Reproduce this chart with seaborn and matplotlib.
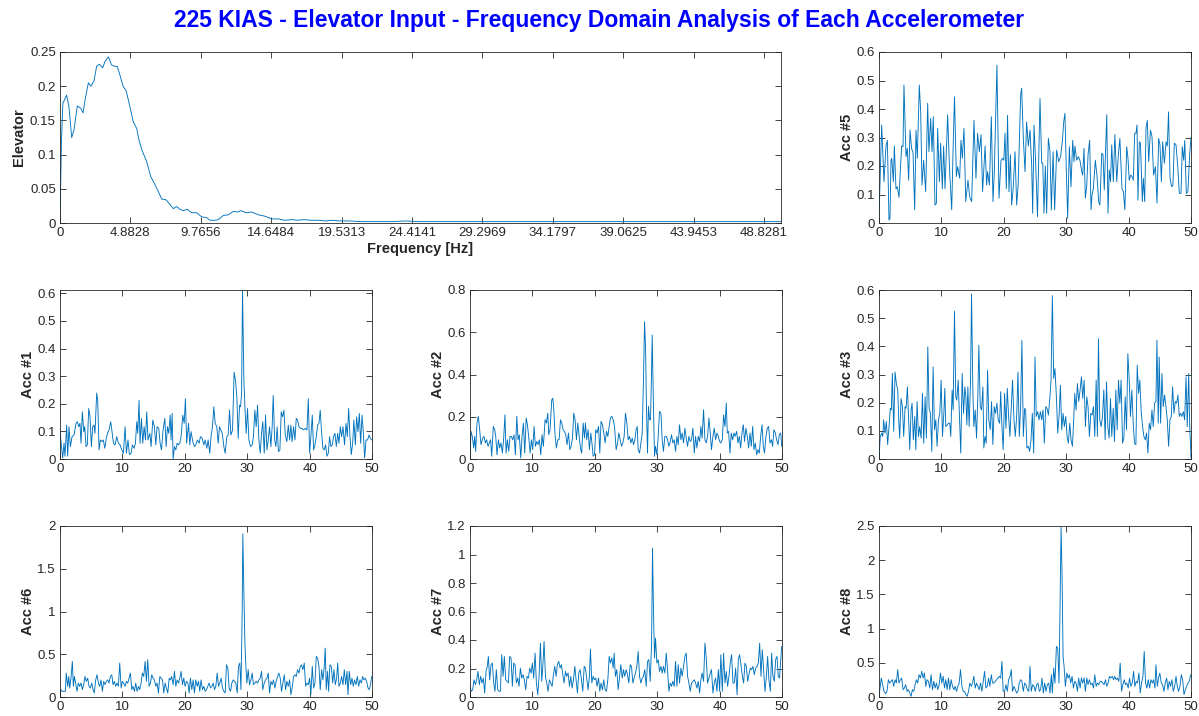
import numpy as np
import matplotlib
matplotlib.use("Agg")
import matplotlib.pyplot as plt
import seaborn as sns
from matplotlib.ticker import FuncFormatter

sns.set_theme(style="ticks")
plt.rcParams["font.family"] = ["Liberation Sans", "DejaVu Sans"]

LINE = "#0072BD"
INK = "#262626"

TITLE = "225 KIAS - Elevator Input - Frequency Domain Analysis of Each Accelerometer"

# Elevator input spectrum: (frequency [Hz], magnitude)
elevator = [(0, 0.0), (0.1, 0.12), (0.2, 0.175), (0.46, 0.187), (0.62, 0.17), (0.81, 0.125), (0.97, 0.136),
            (1.2, 0.171), (1.43, 0.168), (1.6, 0.161), (1.78, 0.185), (1.97, 0.205), (2.15, 0.2), (2.36, 0.208),
            (2.54, 0.229), (2.73, 0.232), (2.96, 0.227), (3.12, 0.236), (3.35, 0.243), (3.58, 0.231), (3.81, 0.229),
            (3.97, 0.229), (4.16, 0.216), (4.39, 0.199), (4.58, 0.194), (4.74, 0.18), (4.92, 0.163), (5.08, 0.148),
            (5.32, 0.138), (5.48, 0.121), (5.71, 0.105), (6.01, 0.09), (6.29, 0.068), (6.59, 0.056), (6.82, 0.046),
            (7.05, 0.035), (7.35, 0.034), (7.63, 0.027), (7.86, 0.021), (8.09, 0.024), (8.32, 0.02), (8.55, 0.018),
            (8.83, 0.02), (9.13, 0.015), (9.48, 0.015), (9.82, 0.009), (10.17, 0.008), (10.4, 0.004), (10.75, 0.004),
            (10.98, 0.005), (11.33, 0.011), (11.67, 0.012), (12.02, 0.017), (12.3, 0.016), (12.53, 0.018),
            (12.94, 0.015), (13.29, 0.016), (13.75, 0.012), (14.2, 0.01), (14.68, 0.006), (15.14, 0.006),
            (15.6, 0.004), (16.07, 0.005), (16.5, 0.004), (16.9, 0.005), (17.4, 0.004), (17.9, 0.004), (18.4, 0.003),
            (18.9, 0.004), (19.4, 0.003), (20.0, 0.003), (21, 0.002), (22, 0.002), (23, 0.002), (24, 0.003),
            (25, 0.002), (26, 0.002), (27, 0.002), (28, 0.002), (29, 0.002), (30, 0.002), (32, 0.002), (34, 0.002),
            (36, 0.002), (38, 0.002), (40, 0.002), (42, 0.002), (44, 0.002), (46, 0.002), (48, 0.002), (50, 0.002)]

acc1 = [(0, 0.099), (0.43, 0.004), (0.64, 0.057), (0.8, 0.01), (1.07, 0.123), (1.23, 0.01), (1.44, 0.117), (1.66, 0.045),
        (1.93, 0.081), (2.25, 0.087), (2.57, 0.129), (2.78, 0.135), (3.0, 0.117), (3.2, 0.129), (3.37, 0.057),
        (3.58, 0.171), (3.8, 0.099), (3.96, 0.117), (4.17, 0.045), (4.38, 0.051), (4.6, 0.183), (4.81, 0.153),
        (5.03, 0.045), (5.24, 0.117), (5.45, 0.123), (5.6, 0.093), (5.88, 0.239), (6.04, 0.212), (6.26, 0.033),
        (6.47, 0.069), (6.74, 0.063), (6.95, 0.069), (7.17, 0.039), (7.38, 0.069), (7.6, 0.093), (7.86, 0.105),
        (8.13, 0.135), (8.34, 0.099), (8.56, 0.057), (8.82, 0.051), (9.09, 0.081), (9.36, 0.057), (9.63, 0.051),
        (9.9, 0.033), (10.16, 0.021), (10.43, 0.117), (10.64, 0.021), (10.9, 0.069), (11.12, 0.016), (11.4, 0.021),
        (11.6, 0.051), (11.87, 0.039), (12.09, 0.057), (12.3, 0.135), (12.46, 0.093), (12.67, 0.212), (12.83, 0.057),
        (13.05, 0.147), (13.26, 0.057), (13.48, 0.117), (13.7, 0.069), (13.9, 0.171), (14.1, 0.069), (14.4, 0.093),
        (14.6, 0.045), (14.87, 0.141), (15.13, 0.117), (15.35, 0.051), (15.56, 0.117), (15.83, 0.111), (16.04, 0.057),
        (16.26, 0.033), (16.52, 0.105), (16.8, 0.147), (17.0, 0.045), (17.22, 0.117), (17.43, 0.093), (17.65, 0.159),
        (17.8, 0.069), (17.97, 0.165), (18.13, 0.0), (18.34, 0.045), (18.56, 0.033), (18.77, 0.057), (18.98, 0.051),
        (19.2, 0.057), (19.4, 0.081), (19.68, 0.159), (19.9, 0.129), (20.1, 0.218), (20.3, 0.057), (20.6, 0.129),
        (20.8, 0.051), (21.0, 0.099), (21.28, 0.063), (21.55, 0.045), (21.76, 0.051), (22.03, 0.069), (22.3, 0.057),
        (22.5, 0.081), (22.78, 0.075), (23.05, 0.051), (23.26, 0.069), (23.53, 0.039), (23.74, 0.069), (24.0, 0.021),
        (24.2, 0.081), (24.44, 0.117), (24.65, 0.189), (24.87, 0.129), (25.13, 0.117), (25.35, 0.057), (25.56, 0.117),
        (25.78, 0.105), (26.0, 0.093), (26.26, 0.045), (26.47, 0.021), (26.74, 0.081), (26.95, 0.087), (27.17, 0.177),
        (27.38, 0.087), (27.65, 0.105), (27.9, 0.314), (28.13, 0.284), (28.34, 0.224), (28.56, 0.075), (28.77, 0.195),
        (28.93, 0.189), (29.1, 0.236), (29.25, 0.612), (29.47, 0.284), (29.68, 0.165), (29.84, 0.093), (30.05, 0.183),
        (30.27, 0.069), (30.53, 0.045), (30.8, 0.051), (31.0, 0.081), (31.23, 0.177), (31.44, 0.117), (31.66, 0.195),
        (31.87, 0.069), (32.09, 0.021), (32.3, 0.093), (32.5, 0.135), (32.73, 0.021), (32.94, 0.159), (33.16, 0.033),
        (33.37, 0.069), (33.58, 0.117), (33.8, 0.045), (34.0, 0.117), (34.17, 0.23), (34.4, 0.069), (34.6, 0.045),
        (34.8, 0.117), (35.0, 0.027), (35.24, 0.033), (35.45, 0.171), (35.67, 0.153), (35.88, 0.177), (36.1, 0.087),
        (36.36, 0.063), (36.58, 0.123), (36.8, 0.069), (37.0, 0.123), (37.2, 0.063), (37.43, 0.117), (37.65, 0.069),
        (37.86, 0.147), (38.07, 0.141), (38.29, 0.117), (38.5, 0.111), (38.77, 0.111), (39.04, 0.105), (39.3, 0.111),
        (39.57, 0.105), (39.8, 0.218), (40.0, 0.021), (40.2, 0.081), (40.43, 0.159), (40.64, 0.033), (40.86, 0.051),
        (41.07, 0.081), (41.28, 0.123), (41.5, 0.129), (41.7, 0.177), (41.93, 0.093), (42.14, 0.039), (42.35, 0.033),
        (42.57, 0.051), (42.78, 0.01), (43.0, 0.021), (43.2, 0.081), (43.42, 0.045), (43.64, 0.051), (43.85, 0.081),
        (44.06, 0.093), (44.28, 0.045), (44.5, 0.093), (44.7, 0.057), (44.92, 0.117), (45.13, 0.081), (45.35, 0.117),
        (45.6, 0.051), (45.83, 0.129), (46.04, 0.081), (46.26, 0.183), (46.47, 0.081), (46.68, 0.016), (46.9, 0.057),
        (47.1, 0.141), (47.33, 0.051), (47.54, 0.153), (47.75, 0.099), (47.97, 0.165), (48.18, 0.057), (48.4, 0.159),
        (48.6, 0.099), (48.82, 0.004), (49.04, 0.069), (49.3, 0.069), (49.52, 0.087), (49.73, 0.075), (49.95, 0.069)]

acc2 = [(0, 0.005), (0.16, 0.131), (0.37, 0.107), (0.59, 0.052), (0.75, 0.107), (0.91, 0.036), (1.12, 0.17), (1.34, 0.202),
        (1.55, 0.139), (1.76, 0.068), (2.03, 0.099), (2.25, 0.107), (2.46, 0.076), (2.67, 0.091), (2.89, 0.06),
        (3.1, 0.076), (3.3, 0.091), (3.48, 0.013), (3.74, 0.154), (3.96, 0.139), (4.12, 0.107), (4.33, 0.02),
        (4.55, 0.091), (4.76, 0.052), (4.97, 0.076), (5.19, 0.028), (5.4, 0.099), (5.6, 0.209), (5.78, 0.028),
        (6.0, 0.091), (6.2, 0.036), (6.42, 0.107), (6.63, 0.107), (6.84, 0.091), (7.06, 0.115), (7.27, 0.02),
        (7.5, 0.202), (7.7, 0.091), (7.9, 0.115), (8.13, 0.005), (8.34, 0.107), (8.56, 0.17), (8.77, 0.028),
        (9.0, 0.194), (9.2, 0.162), (9.4, 0.107), (9.63, 0.028), (9.84, 0.091), (10.05, 0.044), (10.27, 0.154),
        (10.48, 0.06), (10.7, 0.083), (10.9, 0.068), (11.12, 0.091), (11.34, 0.02), (11.55, 0.115), (11.76, 0.06),
        (12.03, 0.186), (12.25, 0.17), (12.46, 0.217), (12.62, 0.115), (12.83, 0.139), (13.1, 0.28), (13.26, 0.288),
        (13.4, 0.249), (13.64, 0.107), (13.85, 0.052), (14.06, 0.091), (14.28, 0.091), (14.5, 0.186), (14.7, 0.17),
        (14.92, 0.139), (15.13, 0.131), (15.35, 0.115), (15.56, 0.068), (15.78, 0.123), (16.0, 0.044), (16.2, 0.06),
        (16.42, 0.099), (16.63, 0.217), (16.84, 0.186), (17.06, 0.091), (17.27, 0.17), (17.5, 0.107), (17.7, 0.052),
        (17.9, 0.028), (18.13, 0.17), (18.34, 0.099), (18.5, 0.17), (18.7, 0.091), (18.93, 0.139), (19.14, 0.044),
        (19.36, 0.123), (19.57, 0.068), (19.73, 0.013), (19.95, 0.02), (20.16, 0.139), (20.37, 0.123), (20.6, 0.154),
        (20.8, 0.028), (21.0, 0.178), (21.23, 0.162), (21.44, 0.123), (21.66, 0.076), (21.87, 0.131), (22.09, 0.107),
        (22.3, 0.154), (22.5, 0.194), (22.73, 0.202), (22.94, 0.186), (23.16, 0.154), (23.42, 0.044), (23.64, 0.076),
        (23.85, 0.123), (24.06, 0.091), (24.28, 0.06), (24.5, 0.076), (24.7, 0.107), (24.92, 0.217), (25.13, 0.17),
        (25.35, 0.091), (25.56, 0.107), (25.78, 0.076), (26.0, 0.099), (26.2, 0.068), (26.42, 0.091), (26.63, 0.139),
        (26.8, 0.154), (26.95, 0.044), (27.17, 0.028), (27.38, 0.076), (27.6, 0.123), (27.8, 0.375), (27.97, 0.65),
        (28.13, 0.532), (28.29, 0.233), (28.45, 0.028), (28.6, 0.249), (28.77, 0.186), (28.93, 0.186), (29.09, 0.406),
        (29.2, 0.587), (29.36, 0.312), (29.57, 0.013), (29.73, 0.06), (29.95, 0.02), (30.16, 0.107), (30.37, 0.225),
        (30.6, 0.217), (30.8, 0.091), (31.0, 0.036), (31.23, 0.107), (31.44, 0.107), (31.66, 0.091), (31.87, 0.06),
        (32.09, 0.083), (32.3, 0.115), (32.5, 0.076), (32.73, 0.091), (32.94, 0.036), (33.16, 0.107), (33.37, 0.068),
        (33.58, 0.162), (33.8, 0.091), (34.0, 0.123), (34.22, 0.076), (34.44, 0.146), (34.65, 0.099), (34.87, 0.06),
        (35.08, 0.107), (35.3, 0.083), (35.5, 0.091), (35.72, 0.146), (35.94, 0.028), (36.15, 0.107), (36.36, 0.052),
        (36.58, 0.107), (36.8, 0.083), (37.0, 0.154), (37.2, 0.099), (37.43, 0.233), (37.65, 0.091), (37.86, 0.076),
        (38.07, 0.107), (38.29, 0.194), (38.5, 0.123), (38.7, 0.044), (38.93, 0.107), (39.14, 0.146), (39.36, 0.091),
        (39.57, 0.123), (39.8, 0.107), (40.0, 0.083), (40.2, 0.076), (40.43, 0.091), (40.64, 0.209), (40.86, 0.154),
        (41.07, 0.265), (41.23, 0.123), (41.44, 0.131), (41.66, 0.028), (41.87, 0.123), (42.09, 0.091), (42.3, 0.123),
        (42.5, 0.107), (42.73, 0.131), (42.94, 0.076), (43.16, 0.107), (43.37, 0.052), (43.58, 0.123), (43.8, 0.162),
        (44.0, 0.083), (44.22, 0.146), (44.44, 0.107), (44.65, 0.052), (44.87, 0.123), (45.08, 0.06), (45.3, 0.154),
        (45.5, 0.044), (45.72, 0.076), (45.94, 0.02), (46.15, 0.044), (46.36, 0.028), (46.58, 0.107), (46.8, 0.162),
        (47.0, 0.06), (47.2, 0.028), (47.43, 0.107), (47.65, 0.146), (47.86, 0.154), (48.07, 0.076), (48.3, 0.091),
        (48.5, 0.06), (48.7, 0.139), (48.93, 0.123), (49.14, 0.091), (49.36, 0.068), (49.57, 0.115), (49.8, 0.123),
        (49.95, 0.06)]

acc3 = [(0, 0.004), (0.2, 0.08), (0.43, 0.092), (0.6, 0.08), (0.75, 0.139), (0.96, 0.092), (1.18, 0.133), (1.39, 0.051),
        (1.6, 0.115), (1.82, 0.18), (1.98, 0.174), (2.14, 0.304), (2.36, 0.098), (2.57, 0.309), (2.78, 0.268),
        (3.0, 0.245), (3.16, 0.139), (3.32, 0.074), (3.53, 0.215), (3.75, 0.186), (3.96, 0.08), (4.18, 0.186),
        (4.34, 0.18), (4.55, 0.256), (4.76, 0.127), (4.93, 0.033), (5.14, 0.174), (5.3, 0.198), (5.5, 0.068),
        (5.73, 0.151), (5.9, 0.033), (6.1, 0.204), (6.32, 0.08), (6.53, 0.115), (6.75, 0.074), (6.96, 0.233),
        (7.17, 0.056), (7.39, 0.221), (7.6, 0.074), (7.82, 0.398), (8.03, 0.18), (8.24, 0.162), (8.46, 0.027),
        (8.67, 0.327), (8.89, 0.104), (9.1, 0.139), (9.31, 0.045), (9.53, 0.139), (9.74, 0.162), (9.96, 0.28),
        (10.17, 0.08), (10.39, 0.162), (10.55, 0.251), (10.7, 0.115), (10.92, 0.121), (11.13, 0.127), (11.35, 0.127),
        (11.5, 0.08), (11.72, 0.245), (11.88, 0.174), (12.1, 0.525), (12.3, 0.221), (12.47, 0.209), (12.69, 0.28),
        (12.9, 0.151), (13.1, 0.021), (13.33, 0.304), (13.54, 0.162), (13.76, 0.256), (13.92, 0.221), (14.08, 0.121),
        (14.24, 0.256), (14.45, 0.115), (14.67, 0.28), (14.83, 0.586), (15.04, 0.245), (15.2, 0.115), (15.42, 0.174),
        (15.63, 0.074), (15.85, 0.233), (16.0, 0.404), (16.22, 0.186), (16.43, 0.174), (16.65, 0.256), (16.8, 0.039),
        (17.0, 0.08), (17.18, 0.056), (17.4, 0.315), (17.6, 0.139), (17.83, 0.104), (18.04, 0.204), (18.25, 0.051),
        (18.47, 0.186), (18.68, 0.162), (18.9, 0.198), (19.1, 0.139), (19.33, 0.127), (19.5, 0.239), (19.7, 0.115),
        (19.9, 0.033), (20.13, 0.233), (20.34, 0.109), (20.56, 0.251), (20.77, 0.151), (20.98, 0.08), (21.2, 0.186),
        (21.4, 0.28), (21.63, 0.139), (21.84, 0.08), (22.06, 0.151), (22.27, 0.309), (22.48, 0.08), (22.7, 0.186),
        (22.9, 0.421), (23.13, 0.08), (23.34, 0.18), (23.5, 0.174), (23.7, 0.039), (23.93, 0.045), (24.14, 0.027),
        (24.36, 0.068), (24.57, 0.162), (24.79, 0.021), (25.0, 0.362), (25.2, 0.151), (25.43, 0.168), (25.64, 0.139),
        (25.86, 0.168), (26.07, 0.139), (26.28, 0.174), (26.5, 0.056), (26.71, 0.186), (26.93, 0.18), (27.14, 0.156),
        (27.36, 0.209), (27.57, 0.28), (27.78, 0.58), (28.0, 0.286), (28.2, 0.321), (28.43, 0.221), (28.64, 0.092),
        (28.85, 0.151), (29.07, 0.262), (29.28, 0.104), (29.5, 0.162), (29.7, 0.115), (29.93, 0.151), (30.14, 0.08),
        (30.35, 0.056), (30.57, 0.127), (30.78, 0.068), (31.0, 0.045), (31.2, 0.139), (31.37, 0.233), (31.58, 0.174),
        (31.8, 0.268), (32.0, 0.204), (32.23, 0.245), (32.44, 0.292), (32.65, 0.215), (32.87, 0.28), (33.08, 0.115),
        (33.3, 0.221), (33.5, 0.186), (33.72, 0.08), (33.94, 0.162), (34.15, 0.156), (34.37, 0.186), (34.58, 0.08),
        (34.8, 0.28), (35.0, 0.08), (35.17, 0.427), (35.38, 0.139), (35.6, 0.115), (35.81, 0.151), (36.03, 0.245),
        (36.24, 0.068), (36.46, 0.274), (36.67, 0.115), (36.88, 0.074), (37.1, 0.215), (37.3, 0.08), (37.53, 0.18),
        (37.74, 0.062), (37.95, 0.245), (38.17, 0.104), (38.38, 0.28), (38.6, 0.198), (38.8, 0.28), (39.03, 0.056),
        (39.24, 0.074), (39.45, 0.221), (39.67, 0.104), (39.88, 0.374), (40.1, 0.28), (40.3, 0.151), (40.52, 0.245),
        (40.74, 0.127), (40.95, 0.056), (41.17, 0.051), (41.38, 0.333), (41.6, 0.233), (41.8, 0.28), (42.0, 0.174),
        (42.24, 0.115), (42.45, 0.08), (42.67, 0.068), (42.88, 0.092), (43.1, 0.021), (43.3, 0.127), (43.52, 0.104),
        (43.74, 0.174), (43.95, 0.115), (44.16, 0.198), (44.38, 0.204), (44.54, 0.421), (44.75, 0.127), (44.9, 0.362),
        (45.13, 0.127), (45.34, 0.304), (45.55, 0.186), (45.77, 0.227), (45.98, 0.186), (46.2, 0.139), (46.41, 0.045),
        (46.63, 0.139), (46.84, 0.151), (47.05, 0.256), (47.27, 0.162), (47.48, 0.204), (47.7, 0.198), (47.9, 0.227),
        (48.13, 0.151), (48.34, 0.162), (48.55, 0.151), (48.77, 0.168), (48.98, 0.139), (49.2, 0.292), (49.4, 0.115),
        (49.63, 0.304), (49.78, 0.127), (50.0, 0.004)]

acc5 = [(0.0, 0.02), (0.43, 0.344), (0.8, 0.145), (1.12, 0.27), (1.34, 0.29), (1.6, 0.01), (1.76, 0.016), (1.92, 0.22),
        (2.05, 0.227), (2.3, 0.145), (2.46, 0.27), (2.72, 0.12), (2.94, 0.127), (3.2, 0.09), (3.63, 0.27), (3.85, 0.268),
        (4.0, 0.484), (4.33, 0.233), (4.54, 0.262), (4.75, 0.15), (4.97, 0.326), (5.23, 0.26), (5.45, 0.25),
        (5.72, 0.046), (5.93, 0.326), (6.14, 0.227), (6.46, 0.484), (6.68, 0.39), (6.89, 0.133), (7.16, 0.22),
        (7.48, 0.11), (7.8, 0.42), (8.0, 0.25), (8.28, 0.367), (8.5, 0.25), (8.7, 0.373), (8.97, 0.063), (9.19, 0.068),
        (9.4, 0.332), (9.67, 0.145), (9.88, 0.28), (10.15, 0.12), (10.36, 0.27), (10.58, 0.12), (11.0, 0.38),
        (11.3, 0.19), (11.65, 0.046), (11.9, 0.285), (12.1, 0.443), (12.4, 0.163), (12.6, 0.198), (12.93, 0.157),
        (13.14, 0.29), (13.35, 0.227), (13.62, 0.332), (13.9, 0.075), (14.26, 0.15), (14.53, 0.092), (14.85, 0.075),
        (15.22, 0.36), (15.54, 0.157), (15.8, 0.315), (16.08, 0.25), (16.35, 0.31), (16.6, 0.11), (17.0, 0.27),
        (17.25, 0.133), (17.4, 0.18), (17.7, 0.133), (18.0, 0.373), (18.27, 0.075), (18.48, 0.18), (18.9, 0.554),
        (19.23, 0.087), (19.55, 0.22), (19.8, 0.227), (20.0, 0.22), (20.2, 0.315), (20.4, 0.12), (20.6, 0.378),
        (20.83, 0.11), (21.05, 0.24), (21.26, 0.063), (21.5, 0.12), (21.8, 0.25), (22.06, 0.063), (22.3, 0.133),
        (22.7, 0.45), (22.86, 0.473), (23.13, 0.297), (23.4, 0.18), (23.66, 0.355), (23.93, 0.27), (24.2, 0.326),
        (24.47, 0.2), (24.63, 0.034), (24.84, 0.344), (25.1, 0.215), (25.4, 0.022), (25.8, 0.437), (26.07, 0.21),
        (26.25, 0.21), (26.44, 0.034), (26.66, 0.2), (26.87, 0.034), (27.14, 0.297), (27.4, 0.25), (27.62, 0.046),
        (27.9, 0.25), (28.15, 0.046), (28.47, 0.256), (28.8, 0.215), (29.1, 0.233), (29.38, 0.285), (29.6, 0.355),
        (29.8, 0.385), (30.02, 0.18), (30.24, 0.016), (30.5, 0.268), (30.77, 0.127), (31.04, 0.29), (31.25, 0.215),
        (31.4, 0.27), (31.68, 0.22), (31.95, 0.233), (32.2, 0.22), (32.5, 0.18), (32.65, 0.168), (32.85, 0.262),
        (33.07, 0.087), (33.3, 0.133), (33.5, 0.24), (33.76, 0.29), (33.98, 0.046), (34.14, 0.1), (34.35, 0.12),
        (34.67, 0.22), (34.94, 0.163), (35.2, 0.075), (35.4, 0.063), (35.7, 0.245), (35.9, 0.24), (36.1, 0.116),
        (36.5, 0.38), (36.7, 0.034), (36.9, 0.186), (37.1, 0.145), (37.3, 0.274), (37.55, 0.145), (37.8, 0.31),
        (38.1, 0.145), (38.36, 0.24), (38.6, 0.297), (38.94, 0.12), (39.16, 0.11), (39.4, 0.046), (39.7, 0.268),
        (39.9, 0.227), (40.1, 0.15), (40.33, 0.168), (40.55, 0.163), (40.76, 0.15), (40.97, 0.315), (41.18, 0.315),
        (41.35, 0.344), (41.5, 0.08), (41.72, 0.285), (41.9, 0.28), (42.2, 0.075), (42.36, 0.157), (42.58, 0.075),
        (42.79, 0.332), (43.0, 0.36), (43.22, 0.215), (43.5, 0.326), (43.75, 0.303), (44.0, 0.168), (44.3, 0.198),
        (44.55, 0.07), (44.82, 0.297), (45.03, 0.274), (45.25, 0.145), (45.46, 0.285), (45.73, 0.21), (46.0, 0.285),
        (46.2, 0.27), (46.4, 0.39), (46.64, 0.157), (46.9, 0.127), (47.1, 0.133), (47.33, 0.28), (47.6, 0.274),
        (47.87, 0.2), (48.13, 0.104), (48.4, 0.104), (48.6, 0.268), (48.83, 0.22), (49.0, 0.29), (49.25, 0.104),
        (49.5, 0.11), (49.8, 0.245), (50.0, 0.3)]

acc6 = [(0, 0.027), (0.16, 0.086), (0.37, 0.066), (0.64, 0.066), (0.86, 0.066), (1.0, 0.28), (1.23, 0.125), (1.4, 0.24),
        (1.55, 0.105), (1.76, 0.22), (1.98, 0.416), (2.14, 0.125), (2.3, 0.24), (2.5, 0.163), (2.73, 0.066),
        (2.94, 0.163), (3.15, 0.125), (3.37, 0.163), (3.58, 0.086), (3.8, 0.144), (4.0, 0.24), (4.22, 0.183),
        (4.44, 0.22), (4.65, 0.125), (4.87, 0.105), (5.08, 0.163), (5.3, 0.086), (5.5, 0.047), (5.72, 0.2),
        (5.94, 0.26), (6.15, 0.163), (6.36, 0.125), (6.58, 0.2), (6.79, 0.066), (7.0, 0.183), (7.22, 0.144),
        (7.43, 0.183), (7.65, 0.2), (7.86, 0.163), (8.07, 0.24), (8.3, 0.26), (8.5, 0.144), (8.7, 0.183),
        (8.93, 0.125), (9.14, 0.163), (9.36, 0.125), (9.57, 0.397), (9.8, 0.105), (10.0, 0.183), (10.2, 0.163),
        (10.43, 0.125), (10.64, 0.183), (10.86, 0.163), (11.07, 0.22), (11.28, 0.28), (11.5, 0.086), (11.7, 0.125),
        (11.93, 0.066), (12.14, 0.163), (12.35, 0.066), (12.57, 0.125), (12.78, 0.086), (13.0, 0.163), (13.2, 0.28),
        (13.42, 0.24), (13.64, 0.416), (13.85, 0.183), (14.06, 0.436), (14.28, 0.125), (14.5, 0.163), (14.7, 0.26),
        (14.92, 0.22), (15.13, 0.2), (15.35, 0.125), (15.56, 0.163), (15.78, 0.047), (16.0, 0.24), (16.2, 0.22),
        (16.42, 0.2), (16.63, 0.047), (16.84, 0.163), (17.06, 0.105), (17.27, 0.047), (17.5, 0.22), (17.7, 0.2),
        (17.9, 0.24), (18.13, 0.144), (18.34, 0.3), (18.56, 0.125), (18.77, 0.2), (18.98, 0.163), (19.2, 0.22),
        (19.4, 0.3), (19.63, 0.144), (19.84, 0.22), (20.05, 0.125), (20.27, 0.183), (20.5, 0.163), (20.7, 0.047),
        (20.9, 0.22), (21.12, 0.086), (21.34, 0.2), (21.55, 0.047), (21.76, 0.2), (22.0, 0.125), (22.2, 0.183),
        (22.4, 0.066), (22.6, 0.2), (22.83, 0.086), (23.05, 0.125), (23.26, 0.066), (23.48, 0.086), (23.7, 0.125),
        (23.9, 0.163), (24.12, 0.105), (24.33, 0.125), (24.55, 0.163), (24.76, 0.086), (24.97, 0.125), (25.19, 0.28),
        (25.4, 0.125), (25.6, 0.163), (25.83, 0.22), (26.04, 0.105), (26.26, 0.066), (26.47, 0.047), (26.68, 0.377),
        (26.9, 0.34), (27.1, 0.105), (27.33, 0.066), (27.54, 0.163), (27.75, 0.2), (27.97, 0.183), (28.18, 0.163),
        (28.4, 0.047), (28.6, 0.358), (28.82, 0.397), (29.0, 0.086), (29.2, 1.02), (29.3, 1.907), (29.47, 1.21),
        (29.63, 0.63), (29.79, 0.358), (29.95, 0.163), (30.16, 0.32), (30.37, 0.144), (30.6, 0.2), (30.8, 0.28),
        (31.0, 0.144), (31.23, 0.163), (31.44, 0.183), (31.66, 0.163), (31.87, 0.2), (32.09, 0.22), (32.3, 0.3),
        (32.5, 0.086), (32.73, 0.163), (32.94, 0.2), (33.16, 0.22), (33.37, 0.28), (33.58, 0.047), (33.8, 0.183),
        (34.0, 0.144), (34.22, 0.2), (34.44, 0.105), (34.65, 0.183), (34.87, 0.24), (35.08, 0.28), (35.3, 0.22),
        (35.5, 0.066), (35.72, 0.163), (35.94, 0.26), (36.15, 0.086), (36.36, 0.183), (36.58, 0.125), (36.8, 0.2),
        (37.0, 0.027), (37.2, 0.105), (37.43, 0.24), (37.65, 0.26), (37.86, 0.24), (38.07, 0.32), (38.29, 0.28),
        (38.5, 0.358), (38.7, 0.377), (38.93, 0.32), (39.14, 0.397), (39.36, 0.125), (39.57, 0.163), (39.8, 0.144),
        (40.0, 0.22), (40.2, 0.027), (40.43, 0.358), (40.64, 0.105), (40.86, 0.163), (41.07, 0.475), (41.28, 0.455),
        (41.5, 0.358), (41.7, 0.086), (41.93, 0.32), (42.14, 0.2), (42.35, 0.358), (42.5, 0.572), (42.67, 0.086),
        (42.88, 0.3), (43.05, 0.066), (43.26, 0.377), (43.48, 0.358), (43.7, 0.163), (43.9, 0.32), (44.12, 0.144),
        (44.33, 0.22), (44.5, 0.397), (44.7, 0.125), (44.92, 0.163), (45.13, 0.24), (45.35, 0.144), (45.56, 0.32),
        (45.78, 0.144), (46.0, 0.3), (46.15, 0.027), (46.36, 0.3), (46.58, 0.144), (46.8, 0.22), (47.0, 0.125),
        (47.2, 0.2), (47.43, 0.144), (47.65, 0.24), (47.86, 0.125), (48.07, 0.2), (48.3, 0.163), (48.5, 0.24),
        (48.7, 0.2), (48.93, 0.22), (49.14, 0.183), (49.36, 0.105), (49.57, 0.086), (49.8, 0.163), (49.95, 0.24)]

acc7 = [(0, 0.075), (0.2, 0.04), (0.43, 0.051), (0.64, 0.121), (0.86, 0.086), (1.07, 0.121), (1.28, 0.18), (1.5, 0.086),
        (1.7, 0.145), (1.93, 0.098), (2.14, 0.133), (2.35, 0.028), (2.57, 0.18), (2.78, 0.215), (2.94, 0.285),
        (3.15, 0.121), (3.37, 0.227), (3.58, 0.238), (3.8, 0.098), (4.0, 0.04), (4.22, 0.192), (4.44, 0.051),
        (4.65, 0.04), (4.87, 0.04), (5.08, 0.297), (5.3, 0.145), (5.5, 0.285), (5.72, 0.121), (5.94, 0.11),
        (6.15, 0.098), (6.36, 0.285), (6.58, 0.273), (6.79, 0.075), (7.0, 0.238), (7.22, 0.227), (7.43, 0.098),
        (7.65, 0.133), (7.86, 0.075), (8.07, 0.203), (8.3, 0.133), (8.5, 0.157), (8.7, 0.121), (8.93, 0.051),
        (9.14, 0.145), (9.36, 0.133), (9.57, 0.203), (9.8, 0.168), (10.0, 0.238), (10.2, 0.133), (10.43, 0.308),
        (10.64, 0.098), (10.86, 0.016), (11.07, 0.145), (11.28, 0.378), (11.5, 0.11), (11.7, 0.238), (11.87, 0.39),
        (12.09, 0.145), (12.3, 0.098), (12.5, 0.04), (12.73, 0.121), (12.94, 0.098), (13.16, 0.075), (13.37, 0.157),
        (13.58, 0.215), (13.8, 0.145), (14.0, 0.227), (14.22, 0.25), (14.44, 0.203), (14.65, 0.227), (14.87, 0.157),
        (15.08, 0.098), (15.3, 0.18), (15.5, 0.145), (15.72, 0.168), (15.94, 0.075), (16.15, 0.145), (16.36, 0.063),
        (16.58, 0.121), (16.8, 0.215), (17.0, 0.121), (17.22, 0.028), (17.43, 0.168), (17.65, 0.192), (17.86, 0.121),
        (18.07, 0.04), (18.3, 0.215), (18.5, 0.203), (18.7, 0.133), (18.93, 0.051), (19.14, 0.145), (19.3, 0.336),
        (19.52, 0.098), (19.73, 0.145), (19.95, 0.121), (20.16, 0.133), (20.37, 0.075), (20.6, 0.133), (20.8, 0.04),
        (21.0, 0.098), (21.23, 0.051), (21.44, 0.121), (21.66, 0.051), (21.87, 0.04), (22.09, 0.121), (22.3, 0.285),
        (22.5, 0.238), (22.73, 0.273), (22.94, 0.203), (23.1, 0.308), (23.3, 0.145), (23.53, 0.192), (23.74, 0.051),
        (23.96, 0.133), (24.17, 0.227), (24.4, 0.133), (24.6, 0.192), (24.8, 0.145), (25.03, 0.192), (25.24, 0.157),
        (25.45, 0.098), (25.67, 0.227), (25.88, 0.215), (26.1, 0.098), (26.3, 0.133), (26.52, 0.168), (26.74, 0.215),
        (26.95, 0.32), (27.17, 0.145), (27.38, 0.098), (27.6, 0.133), (27.8, 0.145), (28.0, 0.192), (28.24, 0.075),
        (28.45, 0.25), (28.66, 0.262), (28.88, 0.11), (29.1, 0.378), (29.25, 1.045), (29.4, 0.612), (29.57, 0.273),
        (29.73, 0.413), (29.95, 0.238), (30.16, 0.262), (30.37, 0.18), (30.6, 0.215), (30.8, 0.168), (31.0, 0.215),
        (31.23, 0.168), (31.44, 0.308), (31.66, 0.192), (31.87, 0.04), (32.09, 0.098), (32.3, 0.075), (32.5, 0.11),
        (32.73, 0.075), (32.94, 0.25), (33.16, 0.075), (33.37, 0.227), (33.58, 0.098), (33.8, 0.203), (34.0, 0.145),
        (34.22, 0.215), (34.44, 0.285), (34.65, 0.308), (34.87, 0.145), (35.08, 0.098), (35.3, 0.04), (35.5, 0.098),
        (35.72, 0.11), (35.94, 0.121), (36.15, 0.098), (36.36, 0.063), (36.58, 0.11), (36.8, 0.028), (37.0, 0.121),
        (37.2, 0.168), (37.43, 0.11), (37.65, 0.378), (37.86, 0.273), (38.07, 0.098), (38.3, 0.133), (38.5, 0.168),
        (38.7, 0.192), (38.93, 0.028), (39.14, 0.098), (39.36, 0.133), (39.57, 0.04), (39.8, 0.192), (40.0, 0.04),
        (40.2, 0.297), (40.43, 0.04), (40.64, 0.308), (40.86, 0.098), (41.07, 0.18), (41.28, 0.075), (41.5, 0.145),
        (41.7, 0.238), (41.93, 0.297), (42.14, 0.098), (42.35, 0.098), (42.57, 0.203), (42.8, 0.016), (43.0, 0.262),
        (43.2, 0.297), (43.42, 0.227), (43.64, 0.145), (43.85, 0.098), (44.06, 0.238), (44.28, 0.215), (44.5, 0.11),
        (44.7, 0.157), (44.92, 0.203), (45.13, 0.192), (45.35, 0.215), (45.56, 0.157), (45.78, 0.203), (46.0, 0.215),
        (46.2, 0.238), (46.42, 0.378), (46.63, 0.145), (46.84, 0.332), (47.06, 0.18), (47.27, 0.04), (47.5, 0.145),
        (47.7, 0.285), (47.9, 0.121), (48.13, 0.04), (48.34, 0.308), (48.55, 0.145), (48.77, 0.11), (48.98, 0.262),
        (49.2, 0.285), (49.4, 0.145), (49.6, 0.133), (49.8, 0.262), (49.95, 0.355)]

acc8 = [(0, 0.01), (0.2, 0.156), (0.37, 0.277), (0.59, 0.18), (0.8, 0.083), (1.07, 0.049), (1.28, 0.083), (1.5, 0.253),
        (1.71, 0.204), (1.93, 0.229), (2.14, 0.253), (2.36, 0.156), (2.57, 0.253), (2.78, 0.204), (3.0, 0.4),
        (3.2, 0.204), (3.43, 0.253), (3.64, 0.277), (3.85, 0.107), (4.07, 0.131), (4.28, 0.18), (4.5, 0.083),
        (4.71, 0.107), (4.93, 0.058), (5.14, 0.01), (5.35, 0.107), (5.57, 0.083), (5.78, 0.18), (6.0, 0.253),
        (6.2, 0.204), (6.42, 0.326), (6.64, 0.277), (6.85, 0.375), (7.07, 0.277), (7.28, 0.35), (7.5, 0.156),
        (7.7, 0.253), (7.92, 0.229), (8.14, 0.131), (8.35, 0.326), (8.57, 0.107), (8.78, 0.229), (9.0, 0.131),
        (9.2, 0.204), (9.42, 0.107), (9.64, 0.18), (9.85, 0.35), (10.06, 0.204), (10.28, 0.302), (10.5, 0.131),
        (10.7, 0.253), (10.92, 0.107), (11.13, 0.277), (11.35, 0.107), (11.56, 0.253), (11.78, 0.156), (12.0, 0.107),
        (12.2, 0.156), (12.42, 0.083), (12.63, 0.156), (12.85, 0.204), (13.06, 0.4), (13.28, 0.156), (13.5, 0.083),
        (13.7, 0.083), (13.92, 0.034), (14.13, 0.01), (14.35, 0.083), (14.56, 0.204), (14.78, 0.156), (15.0, 0.204),
        (15.2, 0.302), (15.42, 0.131), (15.63, 0.204), (15.85, 0.156), (16.06, 0.107), (16.27, 0.204), (16.49, 0.083),
        (16.7, 0.229), (16.92, 0.375), (17.13, 0.131), (17.34, 0.156), (17.56, 0.277), (17.77, 0.156), (18.0, 0.326),
        (18.2, 0.204), (18.4, 0.204), (18.63, 0.229), (18.84, 0.253), (19.06, 0.277), (19.27, 0.302), (19.5, 0.277),
        (19.7, 0.52), (19.9, 0.083), (20.13, 0.083), (20.34, 0.18), (20.56, 0.083), (20.77, 0.253), (21.0, 0.302),
        (21.2, 0.4), (21.4, 0.083), (21.63, 0.156), (21.84, 0.107), (22.06, 0.058), (22.27, 0.083), (22.48, 0.204),
        (22.7, 0.253), (22.9, 0.229), (23.13, 0.083), (23.34, 0.204), (23.55, 0.18), (23.77, 0.107), (24.0, 0.083),
        (24.2, 0.447), (24.4, 0.083), (24.63, 0.18), (24.84, 0.156), (25.05, 0.083), (25.27, 0.18), (25.48, 0.204),
        (25.7, 0.083), (25.9, 0.107), (26.12, 0.277), (26.34, 0.058), (26.55, 0.204), (26.77, 0.083), (26.98, 0.18),
        (27.2, 0.204), (27.4, 0.058), (27.62, 0.326), (27.78, 0.058), (28.0, 0.423), (28.2, 0.204), (28.43, 0.74),
        (28.64, 0.715), (28.85, 0.204), (29.0, 1.274), (29.18, 2.48), (29.34, 1.76), (29.5, 0.593), (29.66, 0.447),
        (29.87, 0.156), (30.1, 0.35), (30.3, 0.277), (30.5, 0.326), (30.73, 0.204), (30.94, 0.302), (31.16, 0.131),
        (31.37, 0.229), (31.58, 0.204), (31.8, 0.083), (32.0, 0.277), (32.23, 0.131), (32.44, 0.277), (32.65, 0.204),
        (32.87, 0.277), (33.08, 0.083), (33.3, 0.277), (33.5, 0.18), (33.72, 0.253), (33.94, 0.18), (34.15, 0.204),
        (34.37, 0.131), (34.58, 0.326), (34.8, 0.156), (35.0, 0.204), (35.22, 0.18), (35.44, 0.229), (35.65, 0.229),
        (35.87, 0.204), (36.08, 0.18), (36.3, 0.253), (36.5, 0.156), (36.72, 0.204), (36.94, 0.302), (37.15, 0.277),
        (37.37, 0.302), (37.58, 0.253), (37.8, 0.302), (38.0, 0.253), (38.22, 0.277), (38.44, 0.229), (38.65, 0.496),
        (38.87, 0.083), (39.08, 0.18), (39.3, 0.253), (39.5, 0.18), (39.72, 0.204), (39.94, 0.131), (40.15, 0.277),
        (40.36, 0.156), (40.58, 0.204), (40.8, 0.375), (41.0, 0.156), (41.22, 0.229), (41.43, 0.204), (41.65, 0.35),
        (41.86, 0.058), (42.08, 0.204), (42.3, 0.302), (42.5, 0.666), (42.72, 0.204), (42.93, 0.131), (43.15, 0.253),
        (43.36, 0.131), (43.58, 0.253), (43.8, 0.204), (44.0, 0.253), (44.22, 0.131), (44.38, 0.472), (44.6, 0.156),
        (44.8, 0.277), (45.0, 0.35), (45.24, 0.204), (45.45, 0.18), (45.66, 0.083), (45.88, 0.204), (46.1, 0.277),
        (46.3, 0.107), (46.52, 0.229), (46.73, 0.156), (46.95, 0.253), (47.16, 0.083), (47.38, 0.156), (47.6, 0.302),
        (47.8, 0.156), (48.0, 0.083), (48.23, 0.156), (48.45, 0.326), (48.66, 0.253), (48.88, 0.034), (49.1, 0.107),
        (49.3, 0.156), (49.5, 0.204), (49.73, 0.229), (49.95, 0.326)]

# Tick positions / labels
elevator_xticks = [0, 4.8828, 9.7656, 14.6484, 19.5313, 24.4141, 29.2969, 34.1797, 39.0625, 43.9453, 48.8281]
elevator_yticks = [0, 0.05, 0.1, 0.15, 0.2, 0.25]
acc_xticks = [0, 10, 20, 30, 40, 50]

# panel name, data, y-limits, y-ticks
panels = {
    "Acc #5": (acc5, (0, 0.6), [0, 0.1, 0.2, 0.3, 0.4, 0.5, 0.6]),
    "Acc #1": (acc1, (0, 0.612), [0, 0.1, 0.2, 0.3, 0.4, 0.5, 0.6]),
    "Acc #2": (acc2, (0, 0.8), [0, 0.2, 0.4, 0.6, 0.8]),
    "Acc #3": (acc3, (0, 0.6), [0, 0.1, 0.2, 0.3, 0.4, 0.5, 0.6]),
    "Acc #6": (acc6, (0, 2), [0, 0.5, 1, 1.5, 2]),
    "Acc #7": (acc7, (0, 1.2), [0, 0.2, 0.4, 0.6, 0.8, 1, 1.2]),
    "Acc #8": (acc8, (0, 2.5), [0, 0.5, 1, 1.5, 2, 2.5]),
}

W, H = 1199, 716
fig = plt.figure(figsize=(W / 100, H / 100), dpi=100)
fig.patch.set_facecolor("white")


def rect(x0, y0, x1, y1):
    """Axes rectangle from pixel box (left, top, right, bottom)."""
    return [x0 / W, 1 - y1 / H, (x1 - x0) / W, (y1 - y0) / H]


def style(ax, ylim, yticks, xticks, xticklabels=None):
    ax.set_xlim(0, 50)
    ax.set_ylim(*ylim)
    ax.set_xticks(xticks)
    if xticklabels is not None:
        ax.set_xticklabels(xticklabels)
    else:
        ax.xaxis.set_major_formatter(FuncFormatter(lambda v, p: f"{v:g}"))
    ax.set_yticks(yticks)
    ax.yaxis.set_major_formatter(FuncFormatter(lambda v, p: f"{v:g}"))
    ax.tick_params(direction="in", top=True, right=True, length=4, width=0.6,
                   labelsize=9.5, colors=INK, pad=3)
    for s in ax.spines.values():
        s.set_visible(True)
        s.set_color(INK)
        s.set_linewidth(0.6)
    ax.set_facecolor("white")
    ax.grid(False)


def plot_series(ax, pairs):
    f, a = zip(*pairs)
    sns.lineplot(x=np.array(f), y=np.array(a), ax=ax, color=LINE, linewidth=0.65,
                 estimator=None, sort=False)


# Elevator input
ax_el = fig.add_axes(rect(60, 52, 781, 223))
plot_series(ax_el, elevator)
style(ax_el, (0, 0.25), elevator_yticks, elevator_xticks, [f"{t:g}" for t in elevator_xticks])
ax_el.set_ylabel("Elevator", fontsize=10.5, fontweight="bold", color=INK, labelpad=3)
ax_el.set_xlabel("Frequency [Hz]", fontsize=10.5, fontweight="bold", color=INK, labelpad=2)

layout = {
    "Acc #5": (879, 52, 1191, 223),
    "Acc #1": (60, 290, 372, 459),
    "Acc #2": (470, 290, 782, 459),
    "Acc #3": (879, 290, 1191, 459),
    "Acc #6": (60, 526, 372, 697),
    "Acc #7": (470, 526, 782, 697),
    "Acc #8": (879, 526, 1191, 697),
}

for name, box in layout.items():
    data, ylim, yticks = panels[name]
    ax = fig.add_axes(rect(*box))
    plot_series(ax, data)
    style(ax, ylim, yticks, acc_xticks)
    ax.set_ylabel(name, fontsize=10.5, fontweight="bold", color=INK, labelpad=2)
    ax.set_xlabel("")

fig.text(0.5, 1 - 20 / H, TITLE, ha="center", va="center", color="#0000FF",
         fontsize=16.5, fontweight="bold")

fig.savefig("out.png", dpi=100, facecolor="white")
